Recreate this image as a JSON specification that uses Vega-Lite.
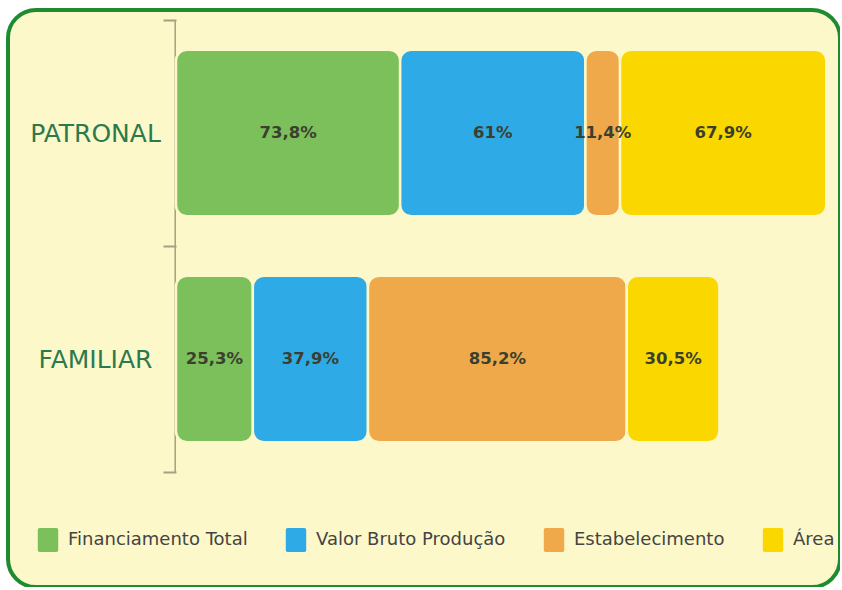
{
  "$schema": "https://vega.github.io/schema/vega-lite/v6.json",
  "autosize": {"type": "none"},
  "padding": {"left": 8, "top": 10, "right": 0, "bottom": 0},
  "width": 832,
  "height": 577,
  "background": "#ffffff",
  "config": {
    "view": {"fill": "#FDF8C9", "stroke": "#1E8B30", "strokeWidth": 4, "cornerRadius": 28},
    "font": "DejaVu Sans"
  },
  "datasets": {
    "barras": [
      {"grupo": "PATRONAL", "categoria": "Financiamento Total", "ordem": 1, "valor": 73.8, "rotulo": "73,8%"},
      {"grupo": "PATRONAL", "categoria": "Valor Bruto Produção", "ordem": 2, "valor": 61, "rotulo": "61%"},
      {"grupo": "PATRONAL", "categoria": "Estabelecimento", "ordem": 3, "valor": 11.4, "rotulo": "11,4%"},
      {"grupo": "PATRONAL", "categoria": "Área", "ordem": 4, "valor": 67.9, "rotulo": "67,9%"},
      {"grupo": "FAMILIAR", "categoria": "Financiamento Total", "ordem": 1, "valor": 25.3, "rotulo": "25,3%"},
      {"grupo": "FAMILIAR", "categoria": "Valor Bruto Produção", "ordem": 2, "valor": 37.9, "rotulo": "37,9%"},
      {"grupo": "FAMILIAR", "categoria": "Estabelecimento", "ordem": 3, "valor": 85.2, "rotulo": "85,2%"},
      {"grupo": "FAMILIAR", "categoria": "Área", "ordem": 4, "valor": 30.5, "rotulo": "30,5%"}
    ],
    "grupos": [{"grupo": "PATRONAL"}, {"grupo": "FAMILIAR"}]
  },
  "resolve": {"scale": {"x": "shared", "y": "shared"}},
  "layer": [
    {
      "data": {"name": "grupos"},
      "mark": {"type": "rect", "color": "#A3A283"},
      "encoding": {
        "y": {"field": "grupo", "type": "nominal", "sort": ["PATRONAL", "FAMILIAR"],
              "scale": {"paddingInner": 0, "paddingOuter": 0.2765, "align": 0.08},
              "axis": {"title": null, "orient": "left", "offset": -168, "tickBand": "extent", "domain": false,
                       "ticks": true, "tickSize": 13, "tickWidth": 2, "tickColor": "#A3A283",
                       "labelPadding": 68, "labelAlign": "center", "labelBaseline": "middle",
                       "labelFont": "DejaVu Sans", "labelFontSize": 25, "labelColor": "#2B7A4E", "grid": false}},
        "x": {"datum": -0.5, "type": "quantitative", "scale": {"domain": [-55.3, 218.6], "nice": false, "zero": false}, "axis": null},
        "x2": {"datum": 0}
      }
    },
    {
      "data": {"name": "barras"},
      "transform": [
        {"stack": "valor", "groupby": ["grupo"], "sort": [{"field": "ordem", "order": "ascending"}], "as": ["x0", "x1"]}
      ],
      "mark": {"type": "bar", "cornerRadius": 11, "stroke": "#FDF8C9", "strokeWidth": 2.5, "height": {"band": 0.737}},
      "encoding": {
        "y": {"field": "grupo", "type": "nominal", "sort": ["PATRONAL", "FAMILIAR"]},
        "x": {"field": "x0", "type": "quantitative"},
        "x2": {"field": "x1"},
        "color": {
          "field": "categoria", "type": "nominal",
          "scale": {"domain": ["Financiamento Total", "Valor Bruto Produção", "Estabelecimento", "Área"],
                    "range": ["#7CC05B", "#2EAAE7", "#F0A94A", "#FBD700"]},
          "legend": {
            "title": null, "orient": "none", "legendX": 28, "legendY": 518, "direction": "horizontal", "columns": 4,
            "columnPadding": 36, "padding": 0,
            "symbolType": "M -0.7,-1 H 0.7 Q 0.85,-1 0.85,-0.85 V 0.85 Q 0.85,1 0.7,1 H -0.7 Q -0.85,1 -0.85,0.85 V -0.85 Q -0.85,-1 -0.7,-1 Z",
            "symbolSize": 576, "symbolStrokeWidth": 0, "symbolOpacity": 1,
            "labelFont": "DejaVu Sans", "labelFontSize": 18, "labelColor": "#444444", "labelOffset": 8, "labelLimit": 300
          }
        },
        "order": {"field": "ordem"}
      }
    },
    {
      "data": {"name": "barras"},
      "transform": [
        {"stack": "valor", "groupby": ["grupo"], "sort": [{"field": "ordem", "order": "ascending"}], "as": ["x0", "x1"]},
        {"fold": ["x0", "x1"], "as": ["borda", "pos"]}
      ],
      "mark": {"type": "text", "font": "DejaVu Sans", "fontWeight": "bold", "fontSize": 16.5, "color": "#3B3F30", "baseline": "middle", "align": "center"},
      "encoding": {
        "y": {"field": "grupo", "type": "nominal", "sort": ["PATRONAL", "FAMILIAR"]},
        "x": {"aggregate": "mean", "field": "pos", "type": "quantitative"},
        "text": {"field": "rotulo", "type": "nominal"},
        "detail": {"field": "categoria", "type": "nominal"}
      }
    }
  ]
}
